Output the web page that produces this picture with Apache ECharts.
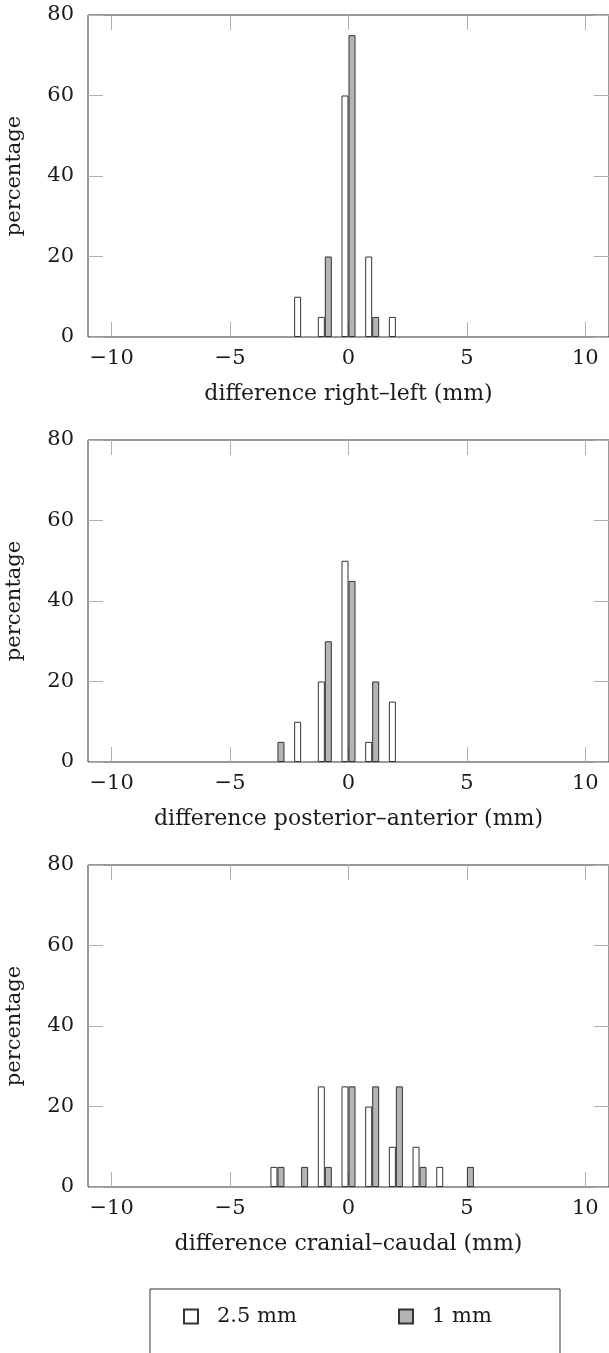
<!DOCTYPE html>
<html lang="en">
<head>
  <meta charset="UTF-8">
  <title>difference histograms</title>
  <script src="https://cdn.jsdelivr.net/npm/echarts@6/dist/echarts.min.js"></script>
  <style>
    body { margin: 0; background: #fff; }
    #chart { width: 609px; height: 1353px; }
  </style>
</head>
<body>
<div id="chart"></div>
<script>
  // bin centres (mm) and percentages per panel
  var bins = [-3, -2, -1, 0, 1, 2, 3, 4, 5];
  var rightLeft25 = [0, 10, 5, 60, 20, 5, 0, 0, 0];
  var rightLeft1 = [0, 0, 20, 75, 5, 0, 0, 0, 0];
  var postAnt25 = [0, 10, 20, 50, 5, 15, 0, 0, 0];
  var postAnt1 = [5, 0, 30, 45, 20, 0, 0, 0, 0];
  var cranCaud25 = [5, 0, 25, 25, 20, 10, 10, 5, 0];
  var cranCaud1 = [5, 5, 5, 25, 25, 25, 5, 0, 5];

  var xTicks = [-10, -5, 0, 5, 10];
  var xTitles = ['difference right–left (mm)', 'difference posterior–anterior (mm)', 'difference cranial–caudal (mm)'];
  var seriesNames = ['2.5 mm', '1 mm'];
  var panels = [[rightLeft25, rightLeft1], [postAnt25, postAnt1], [cranCaud25, cranCaud1]];

  var font = 'DejaVu Serif';
  var txt = '#1a1a1a';
  var tickColor = '#b0b0b0';
  var tops = [15, 440, 865];

  // empty bins are not drawn
  function pairs(vals) {
    return bins.map(function (b, i) { return [b, vals[i] === 0 ? '-' : vals[i]]; });
  }
  function fmt(v) { return v < 0 ? '\u2212' + Math.abs(v) : String(v); }

  var grids = [], xAxes = [], yAxes = [], series = [];
  panels.forEach(function (p, i) {
    grids.push({ left: 88, right: 0, top: tops[i], height: 322, show: true,
      outerBoundsMode: 'none', containLabel: false,
      borderColor: '#333', borderWidth: 1, backgroundColor: 'transparent' });
    var xBase = { type: 'value', gridIndex: i, min: -11, max: 11,
      axisLine: { show: false, onZero: false }, splitLine: { show: false },
      axisTick: { inside: true, length: 15, customValues: xTicks, lineStyle: { color: tickColor } } };
    xAxes.push(Object.assign({}, xBase, { position: 'bottom',
      axisLabel: { customValues: xTicks, formatter: fmt, color: txt, fontFamily: font, fontSize: 21, margin: 11 },
      name: xTitles[i], nameLocation: 'middle', nameGap: 46,
      nameTextStyle: { color: txt, fontFamily: font, fontSize: 22 } }));
    xAxes.push(Object.assign({}, xBase, { position: 'top', axisLabel: { show: false } }));
    var yBase = { type: 'value', gridIndex: i, min: 0, max: 80, interval: 20,
      axisLine: { show: false, onZero: false }, splitLine: { show: false },
      axisTick: { inside: true, length: 15, lineStyle: { color: tickColor } } };
    yAxes.push(Object.assign({}, yBase, { position: 'left',
      axisLabel: { color: txt, fontFamily: font, fontSize: 21, margin: 14 },
      name: 'percentage', nameLocation: 'middle', nameGap: 63,
      nameTextStyle: { color: txt, fontFamily: font, fontSize: 21 } }));
    yAxes.push(Object.assign({}, yBase, { position: 'right', axisLabel: { show: false } }));
    series.push({ name: seriesNames[0], type: 'bar', xAxisIndex: 2 * i, yAxisIndex: 2 * i,
      data: pairs(p[0]), barWidth: 7, barGap: '0%',
      itemStyle: { color: '#ffffff', borderColor: '#333', borderWidth: 1 } });
    series.push({ name: seriesNames[1], type: 'bar', xAxisIndex: 2 * i, yAxisIndex: 2 * i,
      data: pairs(p[1]), barWidth: 7, barGap: '0%',
      itemStyle: { color: '#b4b4b6', borderColor: '#333', borderWidth: 1 } });
  });

  var legendBase = { top: 1306, padding: 0, itemWidth: 14, itemHeight: 14, icon: 'rect',
    textStyle: { color: txt, fontFamily: font, fontSize: 21, padding: [0, 0, 0, 14] } };

  var chart = echarts.init(document.getElementById('chart'));
  chart.setOption({
    animation: false,
    grid: grids,
    xAxis: xAxes,
    yAxis: yAxes,
    series: series,
    legend: [
      Object.assign({ left: 183, data: [seriesNames[0]] }, legendBase),
      Object.assign({ left: 398, data: [seriesNames[1]] }, legendBase)
    ],
    graphic: [{ type: 'rect', shape: { x: 150, y: 1289, width: 410, height: 80 },
      style: { fill: 'none', stroke: '#333', lineWidth: 1 } }]
  });
</script>
</body>
</html>
